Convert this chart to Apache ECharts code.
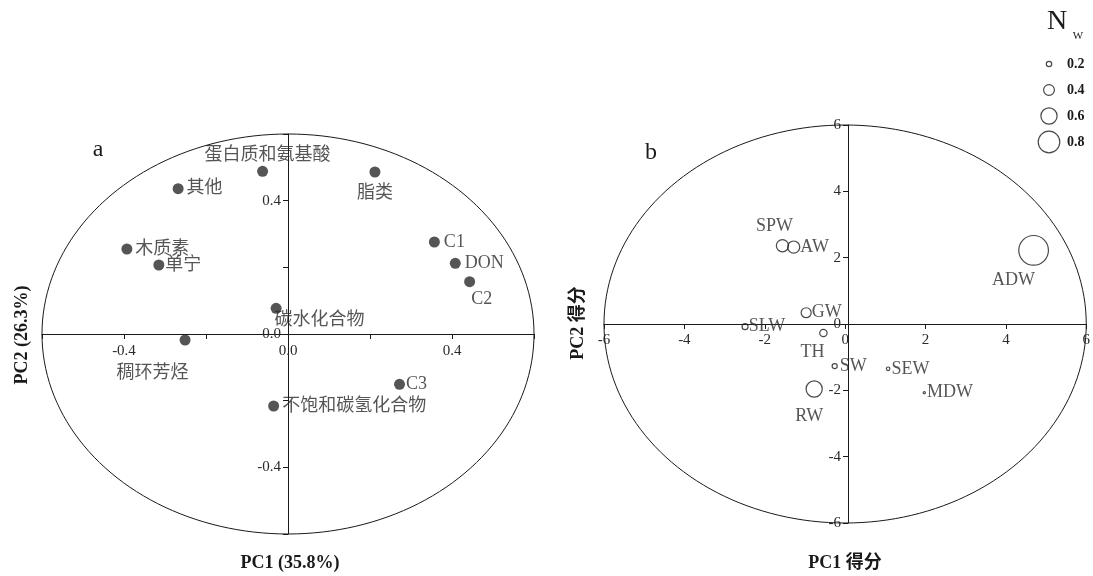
<!DOCTYPE html>
<html>
<head>
<meta charset="utf-8">
<script src="https://cdn.jsdelivr.net/npm/echarts@6/dist/echarts.min.js"></script>
<style>
html,body{margin:0;padding:0;background:#fff;}
#chart{width:1093px;height:576px;}
</style>
</head>
<body>
<div id="chart"></div>
<script>
// ---------- data: panel a (loadings) ----------
const varNames = ['蛋白质和氨基酸','其他','脂类','C1','DON','C2','木质素','单宁','碳水化合物','稠环芳烃','C3','不饱和碳氢化合物'];
const pc1Load = [-0.062,-0.268,0.212,0.357,0.408,0.443,-0.393,-0.315,-0.029,-0.251,0.272,-0.035];
const pc2Load = [0.488,0.436,0.486,0.276,0.212,0.157,0.255,0.207,0.077,-0.018,-0.151,-0.216];

// ---------- data: panel b (scores) ----------
const siteNames = ['SPW','AW','GW','SLW','TH','SW','SEW','MDW','RW','ADW'];
const pc1Score = [-1.56,-1.28,-0.97,-2.49,-0.54,-0.26,1.07,1.97,-0.77,4.69];
const pc2Score = [2.36,2.32,0.34,-0.08,-0.27,-1.27,-1.35,-2.07,-1.96,2.22];
const nwValues = [0.45,0.45,0.37,0.22,0.27,0.19,0.13,0.08,0.60,1.10];

// ---------- legend / axes ----------
const nwLegend = [0.2,0.4,0.6,0.8];
const axisA = {min:-0.6, max:0.6, step:0.2};
const axisB = {min:-6, max:6, step:2};
const titleA = ['PC1 (35.8%)','PC2 (26.3%)'];
const titleB = ['PC1 得分','PC2 得分'];

// ---------- styles ----------
const SERIF = "'Liberation Serif','Noto Sans CJK SC',serif";
const INK = '#1a1a1a';
const SIZE_K = 27;
const gridA = {left:42, top:134, width:492, height:400};
const gridB = {left:604, top:125, width:488, height:398};

const labelA = {
  '蛋白质和氨基酸':{position:'top',distance:2,offset:[5,0]},
  '其他':{position:'right',distance:3},
  '脂类':{position:'bottom',distance:7},
  'C1':{position:'right',distance:4},
  'DON':{position:'right',distance:4},
  'C2':{position:'bottom',distance:3,offset:[12,0]},
  '木质素':{position:'right',distance:3},
  '单宁':{position:'right',distance:1},
  '碳水化合物':{position:[4,8]},
  '稠环芳烃':{position:[-63,30]},
  'C3':{position:'right',distance:1},
  '不饱和碳氢化合物':{position:'right',distance:3}
};
const labelB = {
  'SPW':{position:'top',distance:4,offset:[-8,0]},
  'AW':{position:'right',distance:0},
  'GW':{position:'right',distance:0},
  'SLW':{position:'right',distance:0},
  'TH':{position:'bottom',distance:6,offset:[-11,0]},
  'SW':{position:'right',distance:2},
  'SEW':{position:'right',distance:1},
  'MDW':{position:'right',distance:1},
  'RW':{position:'bottom',distance:10,offset:[-5,0]},
  'ADW':{position:'bottom',distance:5,offset:[-20,0]}
};

function valAxis(cfg, gridIndex, fmt, offset, margin){
  return {
    type:'value', gridIndex, min:cfg.min, max:cfg.max, interval:cfg.step,
    offset: offset,
    axisLine:{show:true,onZero:false,lineStyle:{color:INK,width:1}},
    axisTick:{show:true,length:5,lineStyle:{color:INK}},
    axisLabel:{color:'#2a2a2a',fontFamily:SERIF,fontSize:15,margin:margin,formatter:fmt,hideOverlap:false},
    splitLine:{show:false}
  };
}
const fmtA = v => (Math.round(v*10)%4===0) ? (Math.abs(v)<1e-9 ? '0.0' : v.toFixed(1)) : '';
const fmtB = v => String(Math.round(v));

const chart = echarts.init(document.getElementById('chart'), null, {renderer:'canvas'});

const option = {
  animation:false,
  backgroundColor:'#fff',
  grid:[
    gridA,
    gridB,
    {left:1040, top:51, width:18, height:104}
  ],
  xAxis:[
    valAxis(axisA,0,fmtA,-gridA.height/2,10),
    valAxis(axisB,1,fmtB,-gridB.height/2,9),
    {type:'value',gridIndex:2,min:0,max:1,show:false}
  ],
  yAxis:[
    valAxis(axisA,0,fmtA,-gridA.width/2,7),
    valAxis(axisB,1,fmtB,-gridB.width/2,7),
    {type:'category',gridIndex:2,inverse:true,position:'right',data:nwLegend.map(v=>v.toFixed(1)),
     axisLine:{show:false},axisTick:{show:false},
     axisLabel:{color:INK,fontFamily:SERIF,fontSize:14,fontWeight:'bold',margin:9}}
  ],
  series:[
    {
      type:'scatter', xAxisIndex:0, yAxisIndex:0, symbolSize:11,
      itemStyle:{color:'#2a2a2a'},
      data: varNames.map((n,i)=>({name:n,value:[pc1Load[i],pc2Load[i]],label:labelA[n]})),
      label:{show:true,formatter:'{b}',color:'#2a2a2a',fontFamily:SERIF,fontSize:18},
      z:5
    },
    {
      type:'scatter', xAxisIndex:1, yAxisIndex:1,
      symbolSize: v => SIZE_K*v[2],
      itemStyle:{color:'rgba(0,0,0,0)',borderColor:INK,borderWidth:1.2},
      data: siteNames.map((n,i)=>({name:n,value:[pc1Score[i],pc2Score[i],nwValues[i]],label:labelB[n]})),
      label:{show:true,formatter:'{b}',color:'#2a2a2a',fontFamily:SERIF,fontSize:18},
      z:5
    },
    {
      type:'scatter', xAxisIndex:2, yAxisIndex:2,
      symbolSize: v => SIZE_K*parseFloat(v[1]),
      itemStyle:{color:'rgba(0,0,0,0)',borderColor:INK,borderWidth:1.2},
      data: nwLegend.map(v=>[0.5,v.toFixed(1)])
    }
  ]
};
chart.setOption(option);

function ellipsePts(cfg, gridIndex){
  const pts=[]; const rx=cfg.max, ry=cfg.max; const N=180;
  for(let k=0;k<=N;k++){
    const t=2*Math.PI*k/N;
    pts.push(chart.convertToPixel({xAxisIndex:gridIndex,yAxisIndex:gridIndex},[rx*Math.cos(t),ry*Math.sin(t)]));
  }
  return pts;
}
const txt = (x,y,text,size,bold,rot) => ({
  type:'text', x, y, rotation:rot||0, silent:true,
  style:{text, fill:INK, font:(bold?'bold ':'')+size+'px '+SERIF, textAlign:'center', textVerticalAlign:'middle'}
});

chart.setOption({
  graphic:[
    {type:'polyline',shape:{points:ellipsePts(axisA,0)},style:{stroke:INK,lineWidth:1,fill:null},silent:true,z:1},
    {type:'polyline',shape:{points:ellipsePts(axisB,1)},style:{stroke:INK,lineWidth:1,fill:null},silent:true,z:1},
    txt(98,150,'a',24),
    txt(651,153,'b',24),
    txt(290,563,titleA[0],18,true),
    txt(22,335,titleA[1],18,true,Math.PI/2),
    txt(845,563,titleB[0],18,true),
    txt(578,323,titleB[1],18,true,Math.PI/2),
    txt(1057,22,'N',28),
    txt(1078,36,'W',11)
  ]
});
</script>
</body>
</html>
